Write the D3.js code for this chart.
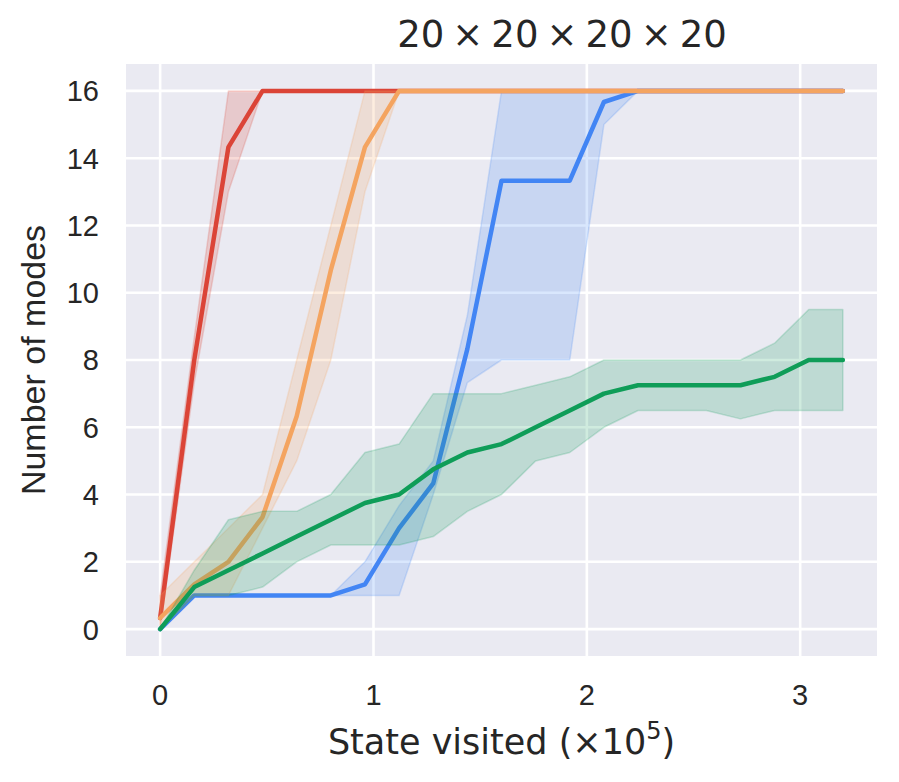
<!DOCTYPE html>
<html>
<head>
<meta charset="utf-8">
<script src="https://cdn.jsdelivr.net/npm/d3@7"></script>
<style>
  body { margin: 0; background: #fff; }
  #chart { width: 899px; height: 782px; }
</style>
</head>
<body>
<div id="chart"></div>
<script>
// x positions: states visited, in units of 1e5
const steps = d3.range(21).map(i => +(i * 0.16).toFixed(2));

const yTicks = [0, 2, 4, 6, 8, 10, 12, 14, 16];
const xTicks = [0, 1, 2, 3];

const redMean  = [0.33, 8, 14.33, 16, 16, 16, 16, 16, 16, 16, 16, 16, 16, 16, 16, 16, 16, 16, 16, 16, 16];
const redUpper = [1, 8.67, 16, 16, 16, 16, 16, 16, 16, 16, 16, 16, 16, 16, 16, 16, 16, 16, 16, 16, 16];
const redLower = [0, 7.33, 13, 16, 16, 16, 16, 16, 16, 16, 16, 16, 16, 16, 16, 16, 16, 16, 16, 16, 16];

const orangeMean  = [0.33, 1.33, 2, 3.33, 6.33, 10.67, 14.33, 16, 16, 16, 16, 16, 16, 16, 16, 16, 16, 16, 16, 16, 16];
const orangeUpper = [1, 2, 3, 4, 8, 12, 16, 16, 16, 16, 16, 16, 16, 16, 16, 16, 16, 16, 16, 16, 16];
const orangeLower = [0, 1, 1, 3, 5, 8, 13, 16, 16, 16, 16, 16, 16, 16, 16, 16, 16, 16, 16, 16, 16];

const blueMean  = [0, 1, 1, 1, 1, 1, 1.33, 3, 4.33, 8.33, 13.33, 13.33, 13.33, 15.67, 16, 16, 16, 16, 16, 16, 16];
const blueUpper = [0, 1, 1, 1, 1, 1, 2, 3.67, 5, 9.33, 16, 16, 16, 16, 16, 16, 16, 16, 16, 16, 16];
const blueLower = [0, 1, 1, 1, 1, 1, 1, 1, 4, 7.33, 8, 8, 8, 15, 16, 16, 16, 16, 16, 16, 16];

const greenMean  = [0, 1.25, 1.75, 2.25, 2.75, 3.25, 3.75, 4, 4.75, 5.25, 5.5, 6, 6.5, 7, 7.25, 7.25, 7.25, 7.25, 7.5, 8, 8];
const greenUpper = [0, 1.75, 3.25, 3.5, 3.5, 4, 5.25, 5.5, 7, 7, 7, 7.25, 7.5, 8, 8, 8, 8, 8, 8.5, 9.5, 9.5];
const greenLower = [0, 1, 1, 1.25, 2, 2.5, 2.5, 2.5, 2.75, 3.5, 4, 5, 5.25, 6, 6.5, 6.5, 6.5, 6.25, 6.5, 6.5, 6.5];

// drawing order matters: later series sit on top
const seriesList = [
  { name: 'red',    color: '#db4437', mean: redMean,    upper: redUpper,    lower: redLower },
  { name: 'blue',   color: '#4285f4', mean: blueMean,   upper: blueUpper,   lower: blueLower },
  { name: 'orange', color: '#f4a460', mean: orangeMean, upper: orangeUpper, lower: orangeLower },
  { name: 'green',  color: '#0f9d58', mean: greenMean,  upper: greenUpper,  lower: greenLower }
];

class ModesChart {

  constructor(opts) {
    this.element = opts.element;
    this.series = opts.series;

    this.margin = { left: 126, right: 22, top: 64, bottom: 126 };
    this.font = '"Liberation Sans", Arial, Helvetica, sans-serif';
    this.mathFont = '"DejaVu Sans", sans-serif'; // mathtext bits
    this.textColor = '#262626';

    this.draw();
  }

  draw() {
    this.width = this.element.offsetWidth;
    this.height = this.element.offsetHeight;

    this.element.innerHTML = '';
    this.svg = d3.select(this.element).append('svg')
      .attr('width', this.width)
      .attr('height', this.height)
      .style('font-family', this.font);

    this.createScales();
    this.createGrid();
    this.drawSeries();
    this.drawLabels();
  }

  createScales() {
    const xMax = d3.max(steps), yMax = 16;
    // matplotlib-like 5% margins
    this.x = d3.scaleLinear()
      .domain([-0.05 * xMax, xMax * 1.05])
      .range([this.margin.left, this.width - this.margin.right]);

    this.y = d3.scaleLinear()
      .domain([-0.05 * yMax, yMax * 1.05])
      .range([this.height - this.margin.bottom, this.margin.top]);
  }

  createGrid() {
    const x = this.x, y = this.y;
    const [x0, x1] = x.range();
    const [y0, y1] = y.range();

    this.svg.append('rect')
      .attr('x', x0).attr('y', y1)
      .attr('width', x1 - x0).attr('height', y0 - y1)
      .attr('fill', '#eaeaf2');

    const grid = this.svg.append('g').attr('id', 'grid');

    grid.selectAll('.xgrid').data(xTicks).enter()
      .append('line').attr('class', 'xgrid')
      .attr('x1', d => x(d)).attr('x2', d => x(d))
      .attr('y1', y0).attr('y2', y1)
      .attr('stroke', '#fff').attr('stroke-width', 2.6);

    grid.selectAll('.ygrid').data(yTicks).enter()
      .append('line').attr('class', 'ygrid')
      .attr('x1', x0).attr('x2', x1)
      .attr('y1', d => y(d)).attr('y2', d => y(d))
      .attr('stroke', '#fff').attr('stroke-width', 2.6);

    // tick labels
    this.svg.append('g').selectAll('text').data(yTicks).enter()
      .append('text')
      .attr('x', 99)
      .attr('y', d => y(d))
      .attr('dy', '0.36em')
      .attr('text-anchor', 'end')
      .attr('fill', this.textColor)
      .style('font-size', '29px')
      .text(d => d);

    this.svg.append('g').selectAll('text').data(xTicks).enter()
      .append('text')
      .attr('x', d => x(d))
      .attr('y', 705)
      .attr('text-anchor', 'middle')
      .attr('fill', this.textColor)
      .style('font-size', '29px')
      .text(d => d);
  }

  drawSeries() {
    const x = this.x, y = this.y;
    const plot = this.svg.append('g').attr('id', 'data_viz');

    const area = d3.area()
      .x((d, i) => x(steps[i]))
      .y0(d => y(d[0]))
      .y1(d => y(d[1]));

    const line = d3.line()
      .x((d, i) => x(steps[i]))
      .y(d => y(d));

    this.series.forEach(function(s) {
      const band = s.lower.map((v, i) => [v, s.upper[i]]);
      const g = plot.append('g').attr('class', s.name);

      g.append('path')
        .attr('d', area(band))
        .attr('fill', s.color)
        .attr('fill-opacity', 0.2)
        .attr('stroke', s.color)
        .attr('stroke-opacity', 0.2)
        .attr('stroke-width', 1.5)
        .attr('stroke-linejoin', 'round');

      g.append('path')
        .attr('d', line(s.mean))
        .attr('fill', 'none')
        .attr('stroke', s.color)
        .attr('stroke-width', 4.5)
        .attr('stroke-linejoin', 'round')
        .attr('stroke-linecap', 'round');
    });
  }

  drawLabels() {
    const [x0, x1] = this.x.range();
    const [y0, y1] = this.y.range();

    // title is mathtext in the original, tighter spacing round the ×
    this.svg.append('text')
      .attr('x', 562)
      .attr('y', 47)
      .attr('text-anchor', 'middle')
      .attr('fill', this.textColor)
      .style('font-family', this.mathFont)
      .style('font-size', '37px')
      .style('word-spacing', '-0.1em')
      .text('20 × 20 × 20 × 20');

    const xl = this.svg.append('text')
      .attr('x', (x0 + x1) / 2)
      .attr('y', 754)
      .attr('text-anchor', 'middle')
      .attr('fill', this.textColor)
      .style('font-family', this.mathFont)
      .style('font-size', '35px');
    xl.append('tspan').text('State visited (×10');
    xl.append('tspan').attr('dy', -15).style('font-size', '24px').text('5');
    xl.append('tspan').attr('dy', 15).text(')');

    this.svg.append('text')
      .attr('transform', `translate(45,${(y0 + y1) / 2}) rotate(-90)`)
      .attr('text-anchor', 'middle')
      .attr('fill', this.textColor)
      .style('font-size', '34px')
      .text('Number of modes');
  }
}

new ModesChart({ element: document.getElementById('chart'), series: seriesList });
</script>
</body>
</html>
